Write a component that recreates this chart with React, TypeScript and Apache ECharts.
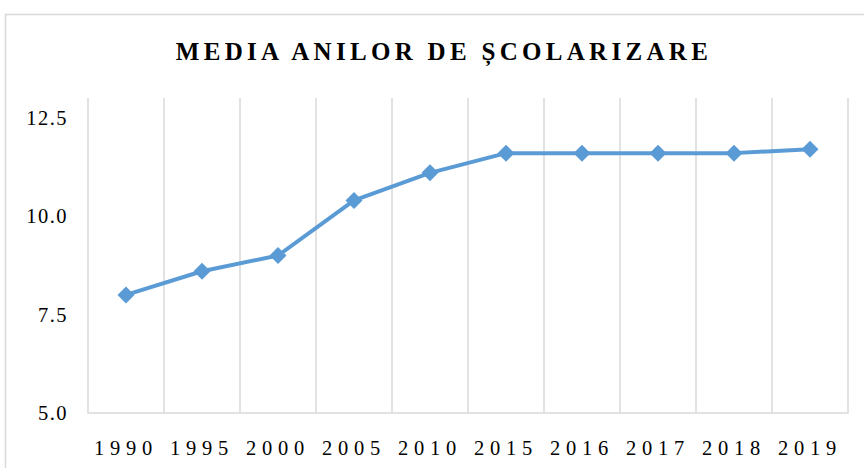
import React, { useEffect, useRef } from "react";
import * as echarts from "echarts";

const years = ["1990", "1995", "2000", "2005", "2010", "2015", "2016", "2017", "2018", "2019"];
const values = [8.0, 8.6, 9.0, 10.4, 11.1, 11.6, 11.6, 11.6, 11.6, 11.7];
const yTicks = [5, 7.5, 10, 12.5];
const titleText = "MEDIA ANILOR DE ȘCOLARIZARE";

export default function App() {
  const ref = useRef<HTMLDivElement>(null);
  useEffect(() => {
    if (!ref.current) return;
    const chart = echarts.init(ref.current, undefined, { renderer: "svg" });
    chart.setOption({
      animation: false,
      backgroundColor: "#ffffff",
      graphic: [
        {
          type: "rect",
          shape: { x: 5.5, y: 14.5, width: 880, height: 480 },
          style: { fill: "none", stroke: "#d9d9d9", lineWidth: 1.5 },
          silent: true,
        },
        {
          type: "text",
          x: 444,
          y: 51,
          style: {
            text: titleText,
            fill: "#000000",
            fontSize: 25,
            fontWeight: "bold",
            fontFamily: "Liberation Serif, Tinos, serif",
            align: "center",
            verticalAlign: "middle",
          },
        },
      ],
      grid: { left: 88, right: 16, top: 98, bottom: 55, containLabel: false },
      xAxis: {
        type: "category",
        data: years,
        boundaryGap: true,
        axisLine: { show: true, lineStyle: { color: "#d9d9d9", width: 1.5 } },
        axisTick: { show: false },
        splitLine: { show: true, lineStyle: { color: "#d9d9d9", width: 1.5 } },
        axisLabel: {
          color: "#000000",
          fontSize: 20.5,
          fontFamily: "Liberation Serif, Times New Roman, serif",
          margin: 24,
          interval: 0,
        },
      },
      yAxis: {
        type: "value",
        min: 5,
        max: 13,
        interval: 2.5,
        axisLine: { show: false },
        axisTick: { show: false },
        splitLine: { show: false },
        axisLabel: {
          color: "#000000",
          fontSize: 20.5,
          fontFamily: "Liberation Serif, Nimbus Roman, serif",
          margin: 20,
          showMaxLabel: false,
          formatter: (v: number) => (yTicks.includes(v) ? v.toFixed(1) : ""),
        },
      },
      series: [
        {
          type: "line",
          data: values,
          smooth: false,
          symbol: "diamond",
          symbolSize: 17,
          lineStyle: { color: "#5b9bd5", width: 4 },
          itemStyle: { color: "#5b9bd5" },
        },
      ],
    });
    return () => chart.dispose();
  }, []);
  return (
    <>
      <style>{`
        #chartbox text[style*="Times"] { letter-spacing: 5.8px; }
        #chartbox text[style*="Tinos"] { letter-spacing: 4.3px; }
        #chartbox text[style*="Nimbus"] { letter-spacing: 1.5px; }
      `}</style>
      <div
        id="chartbox"
        ref={ref}
        style={{ position: "fixed", left: 0, top: 0, width: 864, height: 468 }}
      />
    </>
  );
}
